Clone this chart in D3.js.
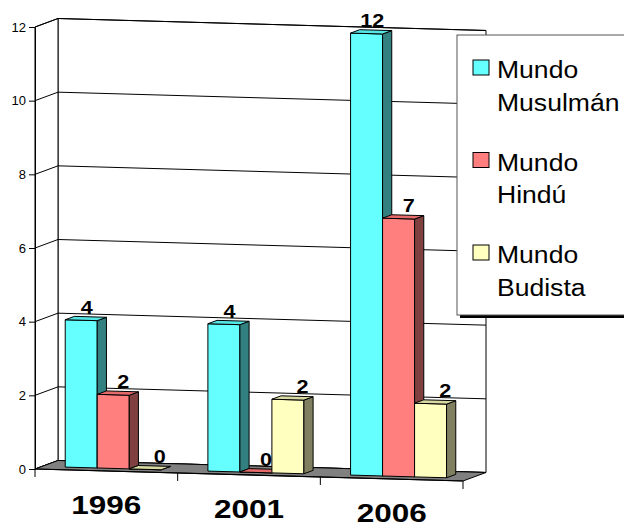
<!DOCTYPE html>
<html>
<head>
<meta charset="utf-8">
<script src="https://cdn.jsdelivr.net/npm/d3@7"></script>
<style>
  body { margin: 0; background: #fff; }
  svg { display: block; }
  text { font-family: "Liberation Sans", Arial, sans-serif; }
</style>
</head>
<body>
<svg id="chart" width="624" height="531"></svg>
<script>
// data
const years = ["1996", "2001", "2006"];
const seriesNames = ["Mundo Musulmán", "Mundo Hindú", "Mundo Budista"];
const legendLines = [["Mundo", "Musulmán"], ["Mundo", "Hindú"], ["Mundo", "Budista"]];
const musulman = [4, 4, 12];
const hindu = [2, 0, 7];
const budista = [0, 2, 2];
const yTicks = [0, 2, 4, 6, 8, 10, 12];

const frontColor = ["#66FFFF", "#FF7F7F", "#FFFFC0"];
const sideColor = ["#338080", "#804040", "#808060"];
const topColor = ["#55E6E6", "#E56A6A", "#D9D9A3"];

const svg = d3.select("#chart");

// 3d-ish frame: front-left bottom corner, depth offset, floor slope
const ox = 35, oy = 469;
const depthX = 23, depthY = -8.5;
const slope = 0.028;
const floorLen = 428;

const h = d3.scaleLinear().domain([0, 12]).range([0, 442]);
const x0 = d3.scaleBand().domain(years).range([0, floorLen]);
const x1 = d3.scaleBand().domain(seriesNames).range([0, x0.bandwidth()])
  .paddingInner(0).paddingOuter(0.729);

// s = distance along category axis, d = depth (0 front, 1 back), v = value
function P(s, d, v) {
  return [ox + s + depthX*d, oy + slope*s + depthY*d - h(v)];
}
function poly(pts) {
  return pts.map(p => p.join(",")).join(" ");
}

// back wall
svg.append("polygon")
  .attr("points", poly([P(0,1,0), P(floorLen,1,0), P(floorLen,1,12), P(0,1,12)]))
  .style("fill", "#fff").style("stroke", "#000").style("stroke-width", 1);
// left wall
svg.append("polygon")
  .attr("points", poly([P(0,0,0), P(0,1,0), P(0,1,12), P(0,0,12)]))
  .style("fill", "#fff").style("stroke", "#000").style("stroke-width", 1);

// gridlines on walls
yTicks.forEach(t => {
  svg.append("polyline")
    .attr("points", poly([P(0,0,t), P(0,1,t), P(floorLen,1,t)]))
    .style("fill", "none")
    .style("stroke", "#000")
    .style("stroke-width", 1);
});

// floor
svg.append("polygon")
  .attr("points", poly([P(0,0,0), P(floorLen,0,0), P(floorLen,1,0), P(0,1,0)]))
  .style("fill", "#808080").style("stroke", "#000").style("stroke-width", 1);

// y axis on the front edge
const yAxisScale = d3.scaleLinear().domain([0, 12]).range([oy, oy - h(12)]);
svg.append("g")
  .attr("transform", "translate(" + ox + ",0)")
  .call(d3.axisLeft(yAxisScale).tickValues(yTicks).tickSize(6).tickSizeOuter(0).tickPadding(3))
  .call(g => g.selectAll("text").style("font-size", "13px").style("fill", "#000")
    .style("font-family", "Liberation Sans, Arial, sans-serif"))
  .call(g => g.selectAll("line, path").style("stroke", "#000"));

// category axis on the front edge
svg.append("line")
  .attr("x1", P(0,0,0)[0]).attr("y1", P(0,0,0)[1])
  .attr("x2", P(floorLen,0,0)[0]).attr("y2", P(floorLen,0,0)[1])
  .style("stroke", "#000").style("stroke-width", 1.2);
d3.range(years.length + 1).forEach(i => {
  let p = P(i * x0.step(), 0, 0);
  svg.append("line")
    .attr("x1", p[0]).attr("y1", p[1])
    .attr("x2", p[0]).attr("y2", p[1] + 8)
    .style("stroke", "#000").style("stroke-width", 1);
});

// category labels
years.forEach(y => {
  let p = P(x0(y) + x0.bandwidth()/2, 0, 0);
  svg.append("text")
    .attr("x", p[0])
    .attr("y", p[1] + 43)
    .attr("textLength", 70)
    .attr("lengthAdjust", "spacingAndGlyphs")
    .text(y)
    .style("text-anchor", "middle")
    .style("font-size", "25px")
    .style("font-weight", "bold");
});

// bars
const series = [musulman, hindu, budista];
const d0 = 0.3, d1 = 0.7;
years.forEach((yr, ci) => {
  seriesNames.forEach((name, si) => {
    let v = series[si][ci];
    let s0 = x0(yr) + x1(name), s1 = s0 + x1.bandwidth();
    let g = svg.append("g");
    // front
    g.append("polygon")
      .attr("points", poly([P(s0,d0,0), P(s1,d0,0), P(s1,d0,v), P(s0,d0,v)]))
      .style("fill", frontColor[si]).style("stroke", "#000").style("stroke-width", 1);
    // side
    g.append("polygon")
      .attr("points", poly([P(s1,d0,0), P(s1,d1,0), P(s1,d1,v), P(s1,d0,v)]))
      .style("fill", sideColor[si]).style("stroke", "#000").style("stroke-width", 1);
    // top
    g.append("polygon")
      .attr("points", poly([P(s0,d0,v), P(s1,d0,v), P(s1,d1,v), P(s0,d1,v)]))
      .style("fill", topColor[si]).style("stroke", "#000").style("stroke-width", 1);
  });
});

// value labels
years.forEach((yr, ci) => {
  seriesNames.forEach((name, si) => {
    let v = series[si][ci];
    let s = x0(yr) + x1(name) + x1.bandwidth()/2;
    let p = P(s, 0.5, v);
    svg.append("text")
      .attr("transform", "translate(" + (p[0] + 1 + 4.5*si) + "," + (p[1] - 5) + ") scale(1.2,1)")
      .text(v)
      .style("text-anchor", "middle")
      .style("font-size", "18px")
      .style("font-weight", "bold");
  });
});

// legend
const legend = svg.append("g");
legend.append("rect")
  .attr("x", 460).attr("y", 38).attr("width", 200).attr("height", 280)
  .style("fill", "#000");
legend.append("rect")
  .attr("x", 457).attr("y", 35).attr("width", 200).attr("height", 280)
  .style("fill", "#fff").style("stroke", "#555").style("stroke-width", 1);
seriesNames.forEach((name, i) => {
  let base = 78 + i*92.5;
  legend.append("rect")
    .attr("x", 473).attr("y", base - 18).attr("width", 16).attr("height", 15)
    .style("fill", frontColor[i]).style("stroke", "#000").style("stroke-width", 1);
  legendLines[i].forEach((line, j) => {
    legend.append("text")
      .attr("transform", "translate(497," + (base + j*32.5) + ") scale(1.13,1)")
      .text(line)
      .style("font-size", "23.5px");
  });
});
</script>
</body>
</html>
